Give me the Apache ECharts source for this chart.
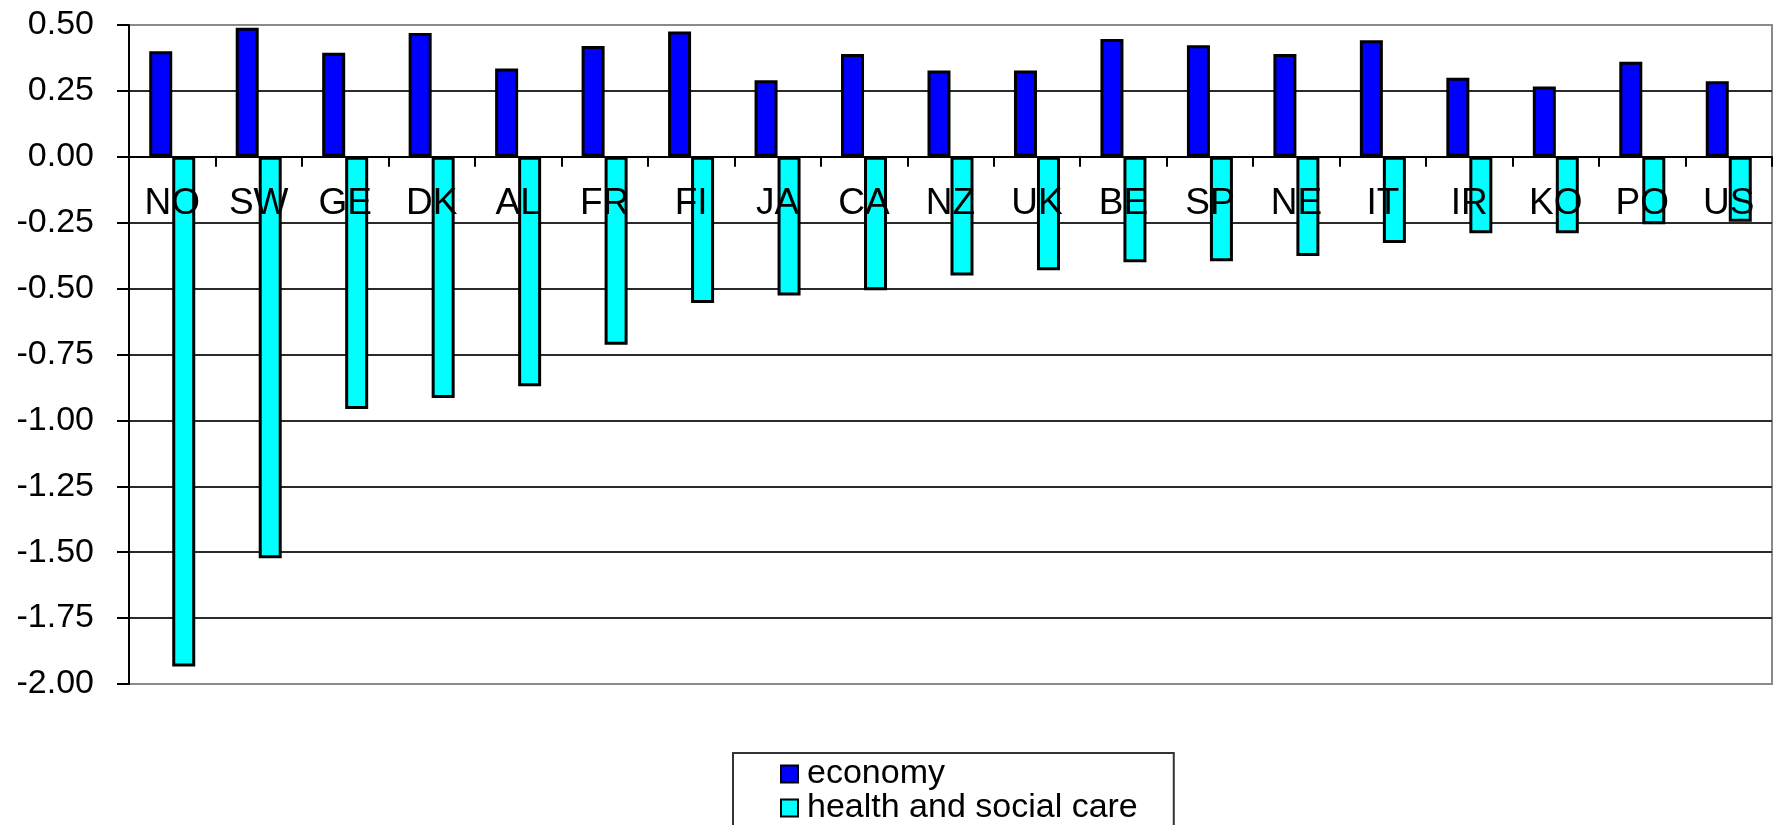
<!DOCTYPE html>
<html>
<head>
<meta charset="utf-8">
<title>economy vs health and social care</title>
<script src="https://cdn.jsdelivr.net/npm/echarts@6/dist/echarts.min.js"></script>
<style>
  html, body { margin: 0; padding: 0; background: #fff; }
  #chart { width: 1775px; height: 825px; }
</style>
</head>
<body>
<div id="chart"></div>
<script>
// Country codes along the category axis
const countries = ['NO', 'SW', 'GE', 'DK', 'AL', 'FR', 'FI', 'JA', 'CA', 'NZ',
                   'UK', 'BE', 'SP', 'NE', 'IT', 'IR', 'KO', 'PO', 'US'];

// Series values
const economy = [0.40, 0.49, 0.395, 0.47, 0.335, 0.42, 0.475, 0.29, 0.39, 0.327,
                 0.327, 0.447, 0.423, 0.39, 0.442, 0.30, 0.267, 0.361, 0.287];
const healthCare = [-1.934, -1.523, -0.957, -0.915, -0.87, -0.713, -0.555, -0.526, -0.506, -0.45,
                    -0.43, -0.40, -0.396, -0.376, -0.327, -0.29, -0.29, -0.256, -0.246];

// Value axis range and step
const yMin = -2.0;
const yMax = 0.5;
const yStep = 0.25;

const seriesNames = ['economy', 'health and social care'];

const FONT = "'Liberation Sans', Arial, sans-serif";

// Plot area placement
const GRID = { left: 129, right: 3, top: 25, bottom: 141 };
const CHART_H = 825;
const plotH = CHART_H - GRID.top - GRID.bottom;
// Shift the category axis up from the plot's bottom edge to the zero line
const zeroOffset = -plotH * (0 - yMin) / (yMax - yMin);

// Outer grid lines (bottom and top) are lighter, like a plot-area frame
const splitColors = ['#8a8a8a', '#2a2a2a', '#2a2a2a', '#2a2a2a', '#2a2a2a', '#2a2a2a',
                     '#2a2a2a', '#2a2a2a', '#2a2a2a', '#2a2a2a', '#8a8a8a'];

const chart = echarts.init(document.getElementById('chart'), null, { renderer: 'canvas' });

chart.setOption({
  animation: false,
  backgroundColor: '#fff',
  textStyle: { fontFamily: FONT, color: '#000' },
  grid: {
    left: GRID.left, right: GRID.right, top: GRID.top, bottom: GRID.bottom,
    show: true,
    borderColor: '#8a8a8a',
    borderWidth: 2,
    backgroundColor: 'transparent'
  },
  legend: {
    orient: 'vertical',
    left: 733,
    top: 753,
    height: 120,
    padding: [4, 36, 14, 47],
    itemGap: 0,
    itemWidth: 17,
    itemHeight: 17,
    icon: 'rect',
    borderColor: '#333',
    borderWidth: 2,
    backgroundColor: '#fff',
    itemStyle: { borderColor: '#000', borderWidth: 2 },
    textStyle: {
      fontFamily: FONT,
      fontSize: 34,
      color: '#000',
      lineHeight: 34,
      padding: [0, 0, 0, 4]
    },
    data: seriesNames
  },
  xAxis: {
    type: 'category',
    data: countries,
    position: 'bottom',
    offset: zeroOffset,
    z: 10,
    axisLine: { onZero: false, lineStyle: { color: '#000', width: 2 } },
    axisTick: { show: true, length: 10, lineStyle: { color: '#000', width: 2 } },
    axisLabel: {
      fontFamily: FONT,
      fontSize: 37,
      color: '#000',
      margin: 28,
      interval: 0
    },
    splitLine: { show: false }
  },
  yAxis: {
    type: 'value',
    min: yMin,
    max: yMax,
    interval: yStep,
    axisLine: { show: true, lineStyle: { color: '#000', width: 2 } },
    axisTick: { show: true, length: 12, lineStyle: { color: '#000', width: 2 } },
    axisLabel: {
      fontFamily: FONT,
      fontSize: 34,
      color: '#000',
      margin: 35,
      formatter: v => v.toFixed(2)
    },
    splitLine: { show: true, lineStyle: { color: splitColors, width: 2 } }
  },
  series: [
    {
      name: seriesNames[0],
      type: 'bar',
      data: economy,
      barWidth: 23,
      barGap: '0%',
      itemStyle: { color: '#0000ff', borderColor: '#000', borderWidth: 3 }
    },
    {
      name: seriesNames[1],
      type: 'bar',
      data: healthCare,
      barWidth: 23,
      barGap: '0%',
      itemStyle: { color: '#00ffff', borderColor: '#000', borderWidth: 3 }
    }
  ]
});
</script>
</body>
</html>
